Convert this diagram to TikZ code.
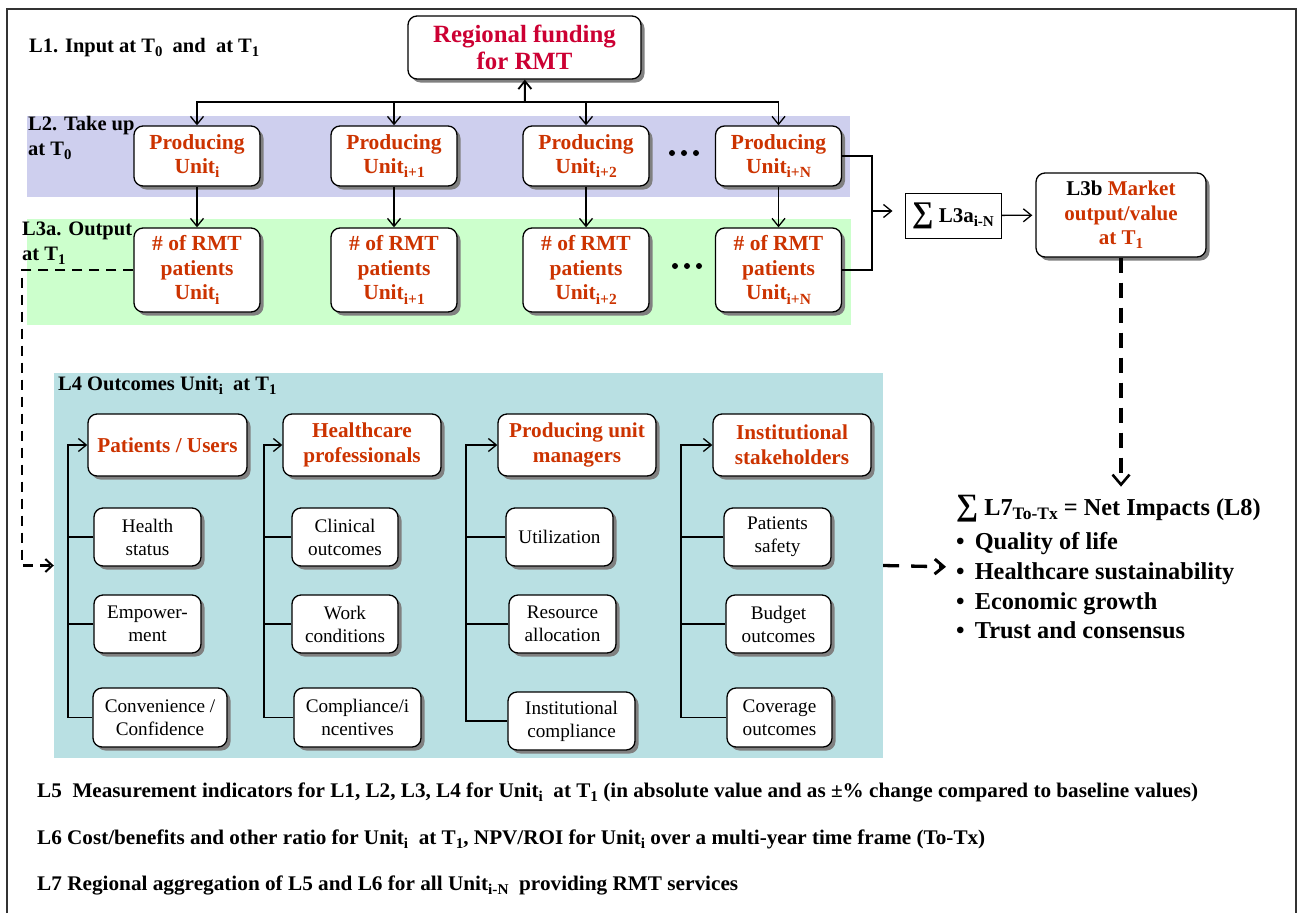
\documentclass[tikz,border=0pt]{standalone}
\usepackage{fontspec}
\setmainfont{Liberation Serif}
\usetikzlibrary{arrows.meta,shadows,calc}
\definecolor{unitred}{RGB}{204,51,0}
\definecolor{fundred}{RGB}{204,0,51}
\definecolor{bandblue}{RGB}{206,207,238}
\definecolor{bandgreen}{RGB}{204,255,204}
\definecolor{outteal}{RGB}{185,224,227}
\makeatletter
% lowered index at 72% of the running size
\newcommand\lowidx[1]{\raisebox{-0.2em}{\fontsize{\the\dimexpr\f@size pt*72/100\relax}{1pt}\selectfont #1}}
\makeatother
\newcommand\fs[2]{\fontsize{#1}{#2}\selectfont}

\begin{document}
\begin{tikzpicture}[x=1pt,y=-1pt,
  rbox/.style={draw, line width=1.3pt, rounded corners=9pt, fill=white, align=center, inner sep=0pt,
     drop shadow={shadow xshift=3.5pt, shadow yshift=-3.5pt, fill=black!50, opacity=1}},
  unitbox/.style={rbox, minimum width=126pt, font=\bfseries\fs{21.5}{24.5}, text=unitred},
  hdrbox/.style={rbox, minimum width=158pt, minimum height=62pt, font=\bfseries\fs{21.2}{25}, text=unitred},
  leafbox/.style={rbox, minimum height=58pt, font=\fs{19.2}{23}},
  arr/.style={line width=1.3pt, -{Straight Barb[length=8pt,width=13pt,line width=1.3pt]}},
  plain/.style={line width=1.3pt},
  dashleft/.style={line width=2.7pt, dash pattern=on 10pt off 7pt, -{Straight Barb[length=7pt,width=13pt,line width=2pt]}},
  dashdown/.style={line width=3.3pt, dash pattern=on 15pt off 10pt, -{Straight Barb[length=10pt,width=17pt,line width=2.6pt]}},
  dashright/.style={line width=3.3pt, dash pattern=on 16pt off 12pt, -{Straight Barb[length=9pt,width=15pt,line width=3pt]}},
  lbl/.style={font=\bfseries\fs{20.5}{25}, inner sep=0pt, anchor=base west},
  note/.style={font=\bfseries\fs{20.8}{22}, inner sep=0pt, anchor=base west},
]
\useasboundingbox (0,0) rectangle (1297,913);

% outer frame
\draw[line width=1.4pt, black!80] (7,913) -- (7,9) -- (1296,9) -- (1296,913);

% level bands
\fill[bandblue] (27,116) rectangle (850,197);
\fill[bandgreen] (27,219) rectangle (851,325);
\node[fill=outteal, minimum width=829pt, minimum height=385pt, inner sep=0pt] (teal) at (468.5,565.5) {};

% funding source
\node[rbox, minimum width=233pt, minimum height=63pt, font=\bfseries\fs{24.8}{27}, text=fundred] (fund) at (524.5,47.5) {Regional funding\\for RMT};

% producing units
\node[unitbox, minimum height=60pt] (pu1) at (197,156) {Producing\\Unit\lowidx{i}};
\node[unitbox, minimum height=60pt] (pu2) at (394,156) {Producing\\Unit\lowidx{i+1}};
\node[unitbox, minimum height=60pt] (pu3) at (586,156) {Producing\\Unit\lowidx{i+2}};
\node[unitbox, minimum height=60pt] (pu4) at (778.5,156) {Producing\\Unit\lowidx{i+N}};

% patients per unit
\node[unitbox, minimum height=84pt] (pt1) at (197,270) {\# of RMT\\patients\\Unit\lowidx{i}};
\node[unitbox, minimum height=84pt] (pt2) at (394,270) {\# of RMT\\patients\\Unit\lowidx{i+1}};
\node[unitbox, minimum height=84pt] (pt3) at (586,270) {\# of RMT\\patients\\Unit\lowidx{i+2}};
\node[unitbox, minimum height=84pt] (pt4) at (778.5,270) {\# of RMT\\patients\\Unit\lowidx{i+N}};

% ellipses between units
\foreach \x in {672,684,696} \fill (\x,153) circle (3pt);
\foreach \x in {675,687,699} \fill (\x,266) circle (3pt);

% aggregation
\node[draw, line width=1pt, minimum width=96pt, minimum height=45pt, inner sep=0pt, font=\bfseries\fs{21}{24}] (sig) at (953,215.5) {{\fs{30}{30}∑} L3a\lowidx{i-N}};
\node[rbox, minimum width=170pt, minimum height=84pt, font=\bfseries\fs{21}{24.5}, text=unitred] (l3b) at (1121,215) {{\color{black}L3b} Market\\output/value\\at T\lowidx{1}};

% funding connectors
\coordinate (bus) at (525,102);
\draw[line width=2pt, -{Straight Barb[length=8pt,width=13pt,line width=1.8pt]}] (bus) -- (fund);
\draw[arr] (bus) -| (pu1);
\draw[arr] (bus) -| (pu2);
\draw[arr] (bus) -| (pu3);
\draw[arr] (bus) -| (pu4);
\draw[arr] (pu1) -- (pt1);
\draw[arr] (pu2) -- (pt2);
\draw[arr] (pu3) -- (pt3);
\draw[arr] (pu4) -- (pt4);

% bracket into the sum
\coordinate (brk) at (872,211);
\draw[plain] (pu4.east) -| (brk) |- (pt4.east);
\draw[arr, shorten >=12pt] (brk) -- (brk -| sig.west);
\draw[arr, shorten >=3pt] (sig) -- (l3b);

% level labels
\node[lbl] (lab1) at (29,52) {L1. Input at T\lowidx{0}\ \ and\ \ at T\lowidx{1}};
\node[lbl] (lab2a) at (28,130) {L2. Take up};
\node[lbl] (lab2b) at (28,155) {at T\lowidx{0}};
\node[lbl] (lab3a) at (22,235) {L3a. Output};
\node[lbl] (lab3b) at (22,260) {at T\lowidx{1}};

% outcomes panel
\node[lbl] (l4t) at (58,390) {L4 Outcomes Unit\lowidx{i}\ \ at T\lowidx{1}};

\node[hdrbox, minimum width=159pt] (h1) at (167.5,445) {Patients / Users};
\node[hdrbox] (h2) at (362,445) {Healthcare\\professionals};
\node[hdrbox] (h3) at (577,445) {Producing unit\\managers};
\node[hdrbox] (h4) at (792,445) {Institutional\\stakeholders};

\node[leafbox, minimum width=107pt] (a1) at (147.5,537) {Health\\status};
\node[leafbox, minimum width=107pt] (a2) at (147.5,624) {Empower-\\ment};
\node[leafbox, minimum width=134pt, minimum height=59pt] (a3) at (160,717.5) {Convenience /\\Confidence};

\node[leafbox, minimum width=106pt] (b1) at (345,537) {Clinical\\outcomes};
\node[leafbox, minimum width=106pt] (b2) at (345,624) {Work\\conditions};
\node[leafbox, minimum width=127pt, minimum height=59pt] (b3) at (357.5,717.5) {Compliance/i\\ncentives};

\node[leafbox, minimum width=107pt] (c1) at (559.5,537) {Utilization};
\node[leafbox, minimum width=107pt] (c2) at (562.5,624) {Resource\\allocation};
\node[leafbox, minimum width=127pt] (c3) at (571.5,721) {Institutional\\compliance};

\node[leafbox, minimum width=107pt] (d1) at (777.5,537) {Patients\\safety};
\node[leafbox, minimum width=105pt] (d2) at (778.5,624) {Budget\\outcomes};
\node[leafbox, minimum width=105pt, minimum height=59pt] (d3) at (779.5,717.5) {Coverage\\outcomes};

% tree brackets
\coordinate (ka) at (68,445);
\coordinate (kb) at (264,445);
\coordinate (kc) at (466,445);
\coordinate (kd) at (681,445);
\draw[arr] (a3.west) -| (ka) -- (h1.west);
\draw[plain] (a1.west) -- (a1.west -| ka);
\draw[plain] (a2.west) -- (a2.west -| ka);
\draw[arr] (b3.west) -| (kb) -- (h2.west);
\draw[plain] (b1.west) -- (b1.west -| kb);
\draw[plain] (b2.west) -- (b2.west -| kb);
\draw[arr] (c3.west) -| (kc) -- (h3.west);
\draw[plain] (c1.west) -- (c1.west -| kc);
\draw[plain] (c2.west) -- (c2.west -| kc);
\draw[arr] (d3.west) -| (kd) -- (h4.west);
\draw[plain] (d1.west) -- (d1.west -| kd);
\draw[plain] (d2.west) -- (d2.west -| kd);

% impacts
\node[anchor=west, inner sep=0pt, align=left, font=\bfseries\fs{24.3}{29.7}] (imp) at (956,567) {{\fs{31}{31}∑} L7\lowidx{To-Tx} = Net Impacts (L8)\\[5pt]
 •\,\ Quality of life\\ •\,\ Healthcare sustainability\\ •\,\ Economic growth\\ •\,\ Trust and consensus};

% dashed flows
\coordinate (lc) at (22,565.5);
\draw[dashleft] (pt1.west) -| (lc) -- (teal.west);
\draw[dashdown, shorten >=8pt] (l3b.south) -- (l3b.south |- imp.north);
\draw[dashright, shorten >=10pt] (teal.east) -- (imp.west);

% measurement notes
\node[note] (n5) at (37,797) {\resizebox{1161pt}{\height}{L5\ \ Measurement indicators for L1, L2, L3, L4 for Unit\lowidx{i}\ \ at T\lowidx{1} (in absolute value and as ±\% change compared to baseline values)}};
\node[note] (n6) at (37,844) {\resizebox{948pt}{\height}{L6 Cost/benefits and other ratio for Unit\lowidx{i}\ \ at T\lowidx{1}, NPV/ROI for Unit\lowidx{i} over a multi-year time frame (To-Tx)}};
\node[note] (n7) at (37,890) {\resizebox{701pt}{\height}{L7 Regional aggregation of L5 and L6 for all Unit\lowidx{i-N}\ \ providing RMT services}};
\end{tikzpicture}
\end{document}
